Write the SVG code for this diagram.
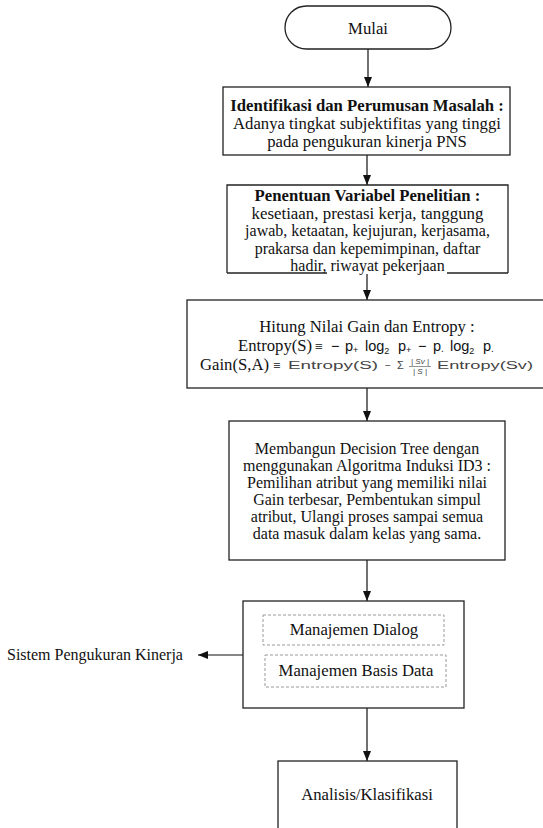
<svg xmlns="http://www.w3.org/2000/svg" width="543" height="828" viewBox="0 0 543 828">
<defs>
<style>
.box{fill:#fff;stroke:#222;stroke-width:1.3}
.dash{fill:none;stroke:#999;stroke-width:1;stroke-dasharray:3 2}
.t{font-family:"Liberation Serif","Times New Roman",serif;font-size:16.7px;fill:#111;text-anchor:middle}
.s{font-size:16px}
.b{font-weight:bold}
.f{font-family:"Liberation Sans",Arial,sans-serif;font-size:14.5px;fill:#111}
.g{font-family:"Liberation Sans",Arial,sans-serif;font-size:10px;fill:#444}
.c{fill:none;stroke:#111;stroke-width:1.2}
</style>
<marker id="ah" markerUnits="userSpaceOnUse" markerWidth="10" markerHeight="10" viewBox="0 0 10 10" refX="10" refY="5" orient="auto">
<path d="M0,1 L10,5 L0,9 z" fill="#111"/>
</marker>
</defs>
<rect width="543" height="828" fill="#fff"/>

<g id="connectors">
<path class="c" d="M368,49 V87" marker-end="url(#ah)"/>
<path class="c" d="M367,155 V185" marker-end="url(#ah)"/>
<path class="c" d="M367,274 V300" marker-end="url(#ah)"/>
<path class="c" d="M367,388 V421" marker-end="url(#ah)"/>
<path class="c" d="M367,560 V601" marker-end="url(#ah)"/>
<path class="c" d="M367,708 V761" marker-end="url(#ah)"/>
<path class="c" d="M243,655 H198" marker-end="url(#ah)"/>
</g>

<g id="mulai">
<rect class="box" x="285" y="6" width="166" height="43" rx="21.5"/>
<text class="t" x="368" y="34">Mulai</text>
</g>

<g id="identifikasi">
<rect class="box" x="223" y="87" width="287" height="68"/>
<text class="t b" x="367" y="111">Identifikasi dan Perumusan Masalah :</text>
<text class="t" x="367" y="129">Adanya tingkat subjektifitas yang tinggi</text>
<text class="t" x="367" y="147">pada pengukuran kinerja PNS</text>
</g>

<g id="variabel">
<path class="box" d="M227,273 V185 H508 V273" fill="#fff"/>
<line x1="227" y1="273" x2="327" y2="273" stroke="#222" stroke-width="1.3"/>
<line x1="447" y1="273" x2="508" y2="273" stroke="#222" stroke-width="1.3"/>
<text class="t b" x="367.5" y="201">Penentuan Variabel Penelitian :</text>
<text class="t s" x="367.5" y="218.5" textLength="232" lengthAdjust="spacingAndGlyphs">kesetiaan, prestasi kerja, tanggung</text>
<text class="t s" x="367.5" y="236">jawab, ketaatan, kejujuran, kerjasama,</text>
<text class="t s" x="367.5" y="253.5">prakarsa dan kepemimpinan, daftar</text>
<text class="t s" x="367.5" y="271">hadir, riwayat pekerjaan</text>
</g>

<g id="gain-entropy">
<rect class="box" x="187" y="300" width="360" height="88"/>
<text class="t" x="367" y="332">Hitung Nilai Gain dan Entropy :</text>
<text class="t" x="238" y="351" style="text-anchor:start">Entropy(S)</text>
<text class="t" x="315" y="351" style="text-anchor:start;font-size:14px">≡</text>
<text class="f" y="351"><tspan x="331">−</tspan><tspan x="345">p</tspan><tspan font-size="9" dy="2">+</tspan><tspan x="365" dy="-2">log</tspan><tspan font-size="9" dy="3">2</tspan><tspan x="398" dy="-3">p</tspan><tspan font-size="9" dy="2">+</tspan><tspan x="418" dy="-2">−</tspan><tspan x="433">p</tspan><tspan font-size="10" dy="1">.</tspan><tspan x="450" dy="-1">log</tspan><tspan font-size="9" dy="3">2</tspan><tspan x="483" dy="-3">p</tspan><tspan font-size="10" dy="1">.</tspan></text>
<text class="t" x="200" y="370" style="text-anchor:start">Gain(S,A)</text>
<text class="t" x="273" y="370" style="text-anchor:start;font-size:13px">≡</text>
<text class="g" x="288" y="369" textLength="90" lengthAdjust="spacingAndGlyphs">Entropy(S)</text>
<text class="g" x="385" y="369">−</text>
<text class="g" x="397" y="369" style="font-size:11px">Σ</text>
<text class="g" x="420" y="364" style="font-size:8px;font-style:italic;text-anchor:middle">| Sv |</text>
<line x1="409" y1="366.5" x2="431" y2="366.5" stroke="#666" stroke-width="0.7"/>
<text class="g" x="420" y="374" style="font-size:8px;font-style:italic;text-anchor:middle">| S |</text>
<text class="g" x="437" y="369" textLength="96" lengthAdjust="spacingAndGlyphs">Entropy(Sv)</text>
</g>

<g id="decision-tree">
<rect class="box" x="229" y="421" width="276" height="139"/>
<text class="t s" x="367" y="454">Membangun Decision Tree dengan</text>
<text class="t s" x="367" y="471">menggunakan Algoritma Induksi ID3 :</text>
<text class="t s" x="367" y="488">Pemilihan atribut yang memiliki nilai</text>
<text class="t s" x="367" y="505">Gain terbesar, Pembentukan simpul</text>
<text class="t s" x="367" y="522">atribut, Ulangi proses sampai semua</text>
<text class="t s" x="367" y="539">data masuk dalam kelas yang sama.</text>
</g>

<g id="manajemen">
<rect class="box" x="243" y="601" width="221" height="107"/>
<rect class="dash" x="263" y="615" width="181" height="30"/>
<text class="t" x="354" y="635">Manajemen Dialog</text>
<rect class="dash" x="265" y="655" width="181" height="32"/>
<text class="t" x="356" y="676">Manajemen Basis Data</text>
</g>

<g id="sistem">
<text class="t" x="7" y="660" style="text-anchor:start;font-size:16px">Sistem Pengukuran Kinerja</text>
</g>

<g id="analisis">
<rect class="box" x="278" y="761" width="179" height="80"/>
<text class="t" x="367" y="800">Analisis/Klasifikasi</text>
</g>
</svg>
